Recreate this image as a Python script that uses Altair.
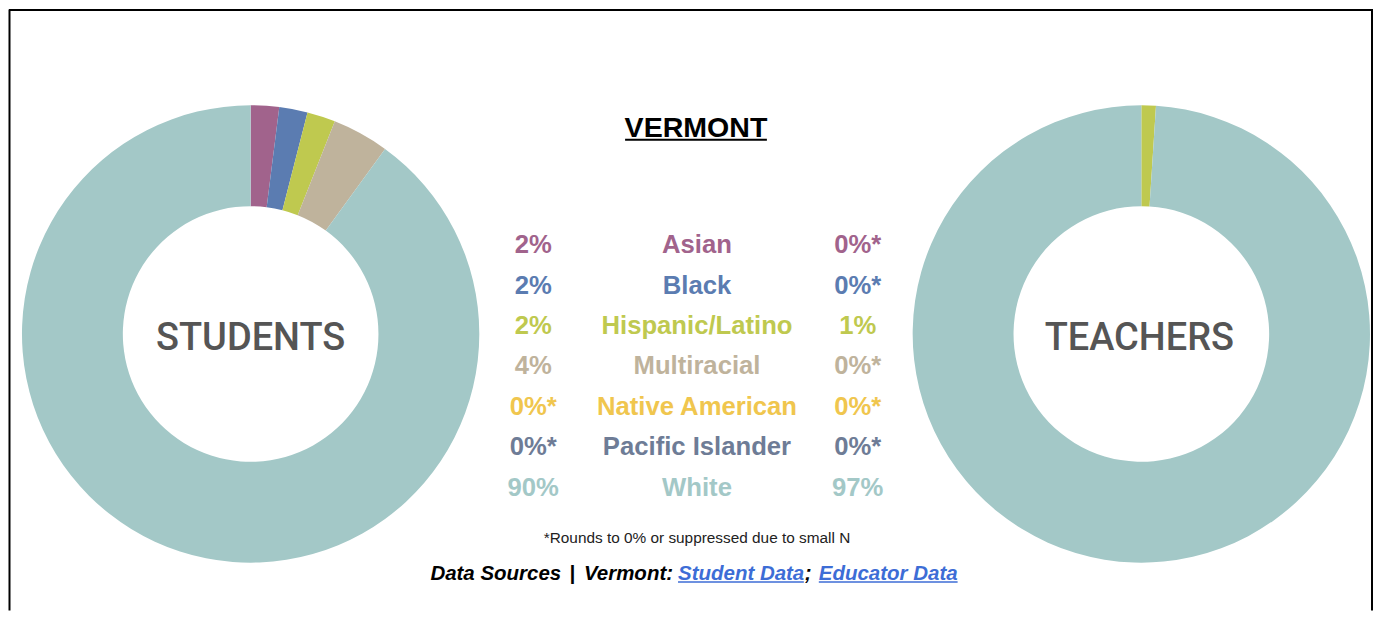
import altair as alt
import pandas as pd

# ---- data ----
categories = ["Asian", "Black", "Hispanic/Latino", "Multiracial",
              "Native American", "Pacific Islander", "White"]
student_pct = [2, 2, 2, 4, 0, 0, 90]
teacher_pct = [0, 0, 1, 0, 0, 0, 97]
student_labels = ["2%", "2%", "2%", "4%", "0%*", "0%*", "90%"]
teacher_labels = ["0%*", "0%*", "1%", "0%*", "0%*", "0%*", "97%"]
colors = ["#A1638C", "#5B7CB1", "#BFC94F", "#BFB39C", "#F0C64E", "#6E7C96", "#A3C8C7"]

title_text = ["VERMONT"]
panel_titles = ["STUDENTS", "TEACHERS"]
footnote = ["*Rounds to 0% or suppressed due to small N"]
source_parts = ["Data Sources", "|", "Vermont:", "Student Data", ";", "Educator Data"]

W, H = 1366, 602
FONT = "Liberation Sans"
LINK = "#3D6DD6"

df = pd.DataFrame({
    "category": categories,
    "order": list(range(len(categories))),
    "student": student_pct,
    "teacher": teacher_pct,
    "slabel": student_labels,
    "tlabel": teacher_labels,
})

color_scale = alt.Scale(domain=categories, range=colors)
color_enc = alt.Color("category:N", scale=color_scale, legend=None)


def donut(field, cx):
    return alt.Chart(df).mark_arc(outerRadius=229, innerRadius=128).encode(
        theta=alt.Theta(f"{field}:Q", stack=True),
        order=alt.Order("order:Q"),
        color=color_enc,
        x=alt.value(cx),
        y=alt.value(325),
    )


ypos = alt.Y("category:N", sort=categories, axis=None,
             scale=alt.Scale(type="point", range=[244, 487], padding=0))


def column(field, cx):
    return alt.Chart(df).mark_text(
        font=FONT, fontSize=25.7, fontWeight="bold", baseline="alphabetic", align="center"
    ).encode(x=alt.value(cx), y=ypos, text=f"{field}:N", color=color_enc)


def label(text, x, y, size, color="black", weight="normal", align="center",
          font=FONT, style="normal"):
    return alt.Chart(pd.DataFrame({"t": [text]})).mark_text(
        font=font, fontSize=size, fontWeight=weight, align=align,
        baseline="alphabetic", color=color, fontStyle=style
    ).encode(text="t:N", x=alt.value(x), y=alt.value(y))


one = pd.DataFrame({"a": [0]})


def hrule(x1, x2, y, color="black", width=2.0):
    return alt.Chart(one).mark_rule(color=color, strokeWidth=width).encode(
        x=alt.value(x1), x2=alt.value(x2), y=alt.value(y))


def vrule(x, y1, y2, color="black", width=2.0):
    return alt.Chart(one).mark_rule(color=color, strokeWidth=width).encode(
        x=alt.value(x), y=alt.value(y1), y2=alt.value(y2))


SRC = 20.5
layers = [
    donut("student", 242),
    donut("teacher", 1134),
    label(panel_titles[0], 242, 341, 38, color="#555555", weight=500, font="Roboto"),
    label(panel_titles[1], 1132, 341, 38, color="#555555", weight=500, font="Roboto"),
    label(title_text[0], 688, 128, 28.6, weight="bold"),
    hrule(617, 759, 130.5, width=2),
    column("slabel", 525),
    column("category", 689),
    column("tlabel", 850),
    label(footnote[0], 689, 534, 15.4, color="#222222"),
    label(source_parts[0], 422, 571, SRC, weight="bold", align="left", style="italic"),
    label(source_parts[1], 564, 571, SRC, weight="bold", align="center", style="italic"),
    label(source_parts[2], 665, 571, SRC, weight="bold", align="right", style="italic"),
    label(source_parts[3], 670, 571, SRC, color=LINK, weight="bold", align="left", style="italic"),
    label(source_parts[4], 797, 571, SRC, weight="bold", align="left", style="italic"),
    label(source_parts[5], 811, 571, SRC, color=LINK, weight="bold", align="left", style="italic"),
    hrule(670, 796, 573.5, color=LINK, width=1.5),
    hrule(811, 950, 573.5, color=LINK, width=1.5),
    vrule(0.5, 0, H),
    vrule(W - 1, 0, H),
    hrule(0, W, 0.5),
]

chart = alt.layer(*layers).resolve_scale(theta="independent").properties(
    width=W, height=H, padding=0
).configure_view(stroke=None)

chart.save("out.html", embed_options={"renderer": "svg", "actions": False})
